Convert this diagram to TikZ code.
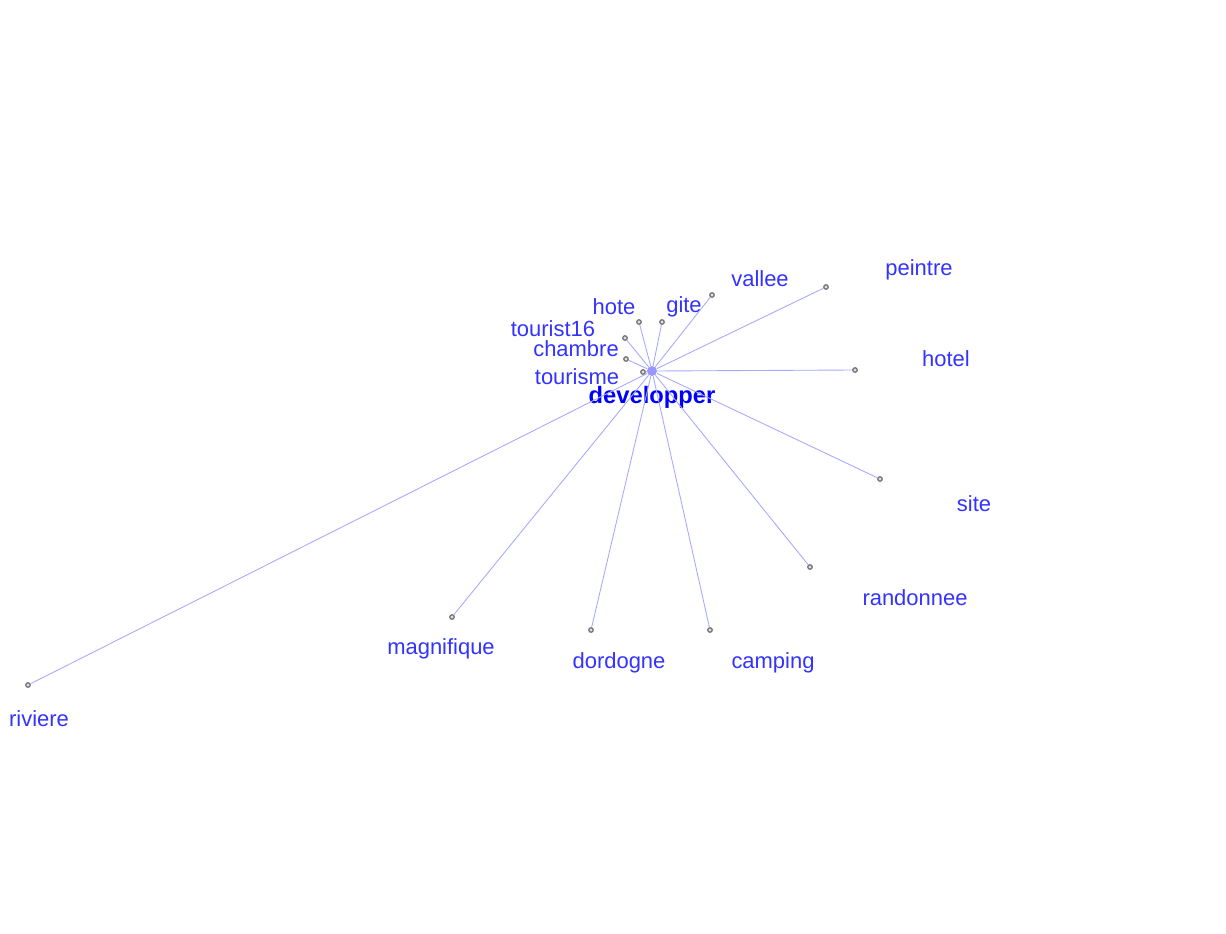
\documentclass[tikz,border=0pt]{standalone}
\usepackage{fontspec}
\setmainfont{Liberation Sans}
\usepackage{tikz}
\definecolor{wblue}{HTML}{3333FF}
\definecolor{eblue}{HTML}{A8A8FF}
\definecolor{dgray}{HTML}{707070}
\tikzset{
  word/.style={text=wblue,font=\fontsize{12.5}{15}\selectfont,inner sep=0pt},
  pivot/.style={text=blue,font=\fontsize{13.5}{16}\selectfont\bfseries,inner sep=0pt},
  dot/.style={circle,draw=dgray,fill=gray!25,line width=0.7pt,minimum size=0.09cm,inner sep=0pt},
  hub/.style={circle,fill=eblue!90!blue,minimum size=0.2cm,inner sep=0pt},
  edge/.style={draw=eblue,line width=0.5pt},
}
\begin{document}
\begin{tikzpicture}[x=0.02cm,y=-0.02cm]
  \useasboundingbox (0,0) rectangle (1226,933);
  \node[hub] (ctr) at (652,371) {};
  \node[pivot] (lctr) at (652,397) {developper};
  % word / dot x,y / label x,y
  \foreach \w/\px/\py/\lx/\ly in {
    tourisme/643/372/577/377,
    chambre/626/359/576/349,
    tourist16/625/338/553/329,
    hote/639/322/614/307,
    gite/662/322/684/307,
    vallee/712/295/760/279,
    peintre/826/287/919/270,
    hotel/855/370/946/359,
    site/880/479/974/504,
    randonnee/810/567/915/598,
    camping/710/630/773/663,
    dordogne/591/630/619/663,
    magnifique/452/617/441/649,
    riviere/28/685/39/719} {
    \node[dot] (p\w) at (\px,\py) {};
    \draw[edge] (ctr) -- (p\w);
    \node[word] (l\w) at (\lx,\ly) {\w};
  }
\end{tikzpicture}
\end{document}
